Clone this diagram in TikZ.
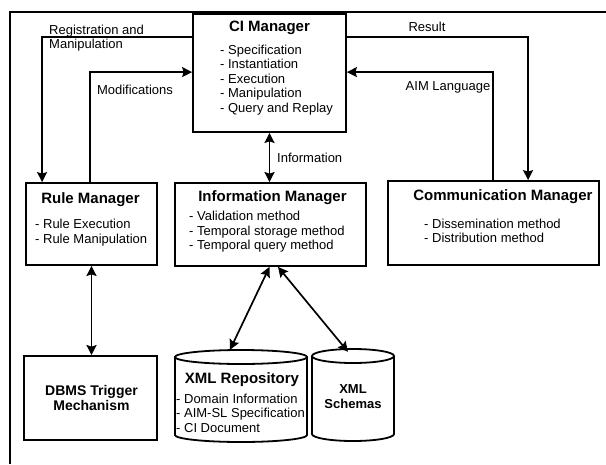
\documentclass[tikz,border=0pt]{standalone}
\usepackage{fontspec}
\setmainfont{Liberation Sans}
\usetikzlibrary{arrows.meta}
\begin{document}
\begin{tikzpicture}[x=1pt,y=-1pt,
  box/.style={draw, line width=1.8pt, inner sep=0pt},
  tit/.style={font=\fontsize{15}{17}\selectfont\bfseries, inner sep=0pt},
  itm/.style={font=\fontsize{13}{14.4}\selectfont, align=left, inner sep=0pt, anchor=west},
  lbl/.style={font=\fontsize{13}{14.4}\selectfont, inner sep=0pt},
  tip/.style={Stealth[length=10pt,width=10pt,inset=1.5pt]},
  arr/.style={line width=1.7pt, -{Stealth[length=10pt,width=10pt,inset=1.5pt]}},
  darr/.style={line width=1.7pt, {Stealth[length=10pt,width=10pt,inset=1.5pt]}-{Stealth[length=10pt,width=10pt,inset=1.5pt]}},
  cyl/.style={line width=1.8pt}]
\useasboundingbox (0,0) rectangle (606,464);
\fill[white] (0,0) rectangle (606,464);
% outer frame (partially visible)
\draw[line width=2.3pt] (606,12) -- (10,12) -- (10,464);

% CI Manager
\node[box, minimum width=153pt, minimum height=118pt] (ci) at (269.5,73) {};
\node[tit] (cit) at (269.5,28) {CI Manager};
\node[itm] (cii) at (220,80) {- Specification\\- Instantiation\\- Execution\\- Manipulation\\- Query and Replay};

% Rule Manager
\node[box, minimum width=131pt, minimum height=82pt] (rule) at (91.5,224) {};
\node[tit] (rulet) at (90.5,200) {Rule Manager};
\node[itm] (rulei) at (35,232.5) {- Rule Execution\\- Rule Manipulation};

% Information Manager
\node[box, minimum width=191pt, minimum height=83pt] (info) at (270.5,224.5) {};
\node[tit] (infot) at (272.5,198) {Information Manager};
\node[itm] (infoi) at (189,232) {- Validation method\\- Temporal storage method\\- Temporal query method};

% Communication Manager
\node[box, minimum width=211pt, minimum height=84pt] (comm) at (493.5,223) {};
\node[tit] (commt) at (503,197) {Communication Manager};
\node[itm] (commi) at (424,231) {- Dissemination method\\- Distribution method};

% DBMS Trigger Mechanism
\node[box, minimum width=133pt, minimum height=84pt] (dbms) at (90.5,398) {};
\node[font=\fontsize{14}{14.5}\selectfont\bfseries, align=center, inner sep=0pt] (dbmst) at (91.5,398) {DBMS Trigger\\Mechanism};

% XML Repository cylinder
\node[minimum width=132pt, minimum height=92pt, inner sep=0pt] (repo) at (241,396) {};
\draw[cyl] (175,357) -- (175,435) arc[start angle=180, end angle=0, x radius=66, y radius=7] -- (307,357);
\draw[cyl] (241,357) ellipse [x radius=66, y radius=7];
\node[tit] (repot) at (242,380) {XML Repository};
\node[itm] (repoi) at (176,413) {- Domain Information\\- AIM-SL Specification\\- CI Document};

% XML Schemas cylinder
\node[minimum width=82pt, minimum height=92pt, inner sep=0pt] (schem) at (353,395) {};
\draw[cyl] (312,356) -- (312,434) arc[start angle=180, end angle=0, x radius=41, y radius=7] -- (394,356);
\draw[cyl] (353,356) ellipse [x radius=41, y radius=7];
\node[font=\fontsize{13}{15}\selectfont\bfseries, align=center, inner sep=0pt] (schemt) at (353,396.5) {XML\\Schemas};

% connectors
\draw[arr] ([yshift=-24pt]ci.north west) -| ([xshift=17pt]rule.north west);
\node[lbl, anchor=west] (l1) at (49,31) {Registration and};
\node[lbl, anchor=west] (l2) at (49,45) {Manipulation};

\draw[arr] ([xshift=65pt]rule.north west) |- ([yshift=-59pt]ci.north west);
\node[lbl] (l3) at (135,90) {Modifications};

\draw[arr] ([yshift=-24pt]ci.north east) -| ([xshift=141pt]comm.north west);
\node[lbl] (l4) at (427,27) {Result};

\draw[arr] ([xshift=106pt]comm.north west) |- ([yshift=-59pt]ci.north east);
\node[lbl] (l5) at (448,87) {AIM Language};

\draw[darr] (ci.south) -- (ci.south |- info.north);
\node[lbl, anchor=west] (l6) at (277,158) {Information};

\draw[darr] (rule.south) -- (rule.south |- dbms.north);
\draw[darr] ([xshift=-1pt]info.south) -- ([xshift=-11pt]repo.north);
\draw[darr] ([xshift=7.5pt]info.south) -- ([xshift=-5pt, yshift=-3pt]schem.north);
\end{tikzpicture}
\end{document}
